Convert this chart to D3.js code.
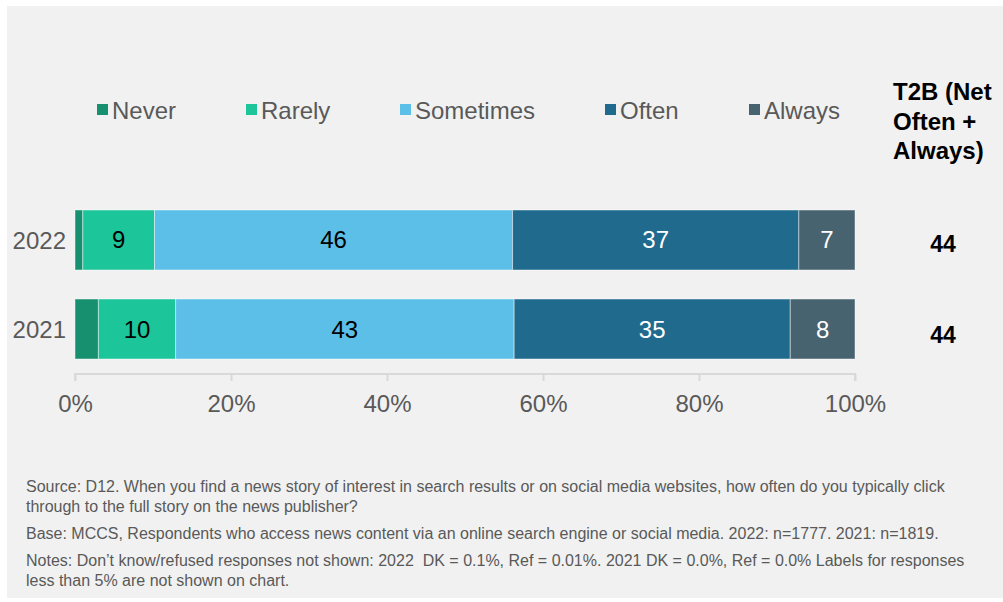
<!DOCTYPE html>
<html>
<head>
<meta charset="utf-8">
<script src="https://cdn.jsdelivr.net/npm/d3@7"></script>
<style>
  html, body { margin: 0; padding: 0; background: #ffffff; }
  svg { display: block; font-family: "Liberation Sans", Arial, sans-serif; }
  .note { white-space: pre; }
</style>
</head>
<body>
<svg id="chart" width="1003" height="602"></svg>
<script>
// Survey response shares (%) by year
const years = ["2022", "2021"];
const responses = ["Never", "Rarely", "Sometimes", "Often", "Always"];
const never     = [1.0, 3.0];
const rarely    = [9.2, 9.9];
const sometimes = [45.9, 43.4];
const often     = [36.7, 35.4];
const always    = [7.2, 8.3];
const tickValues = [0, 20, 40, 60, 80, 100];
const t2bHeader = ["T2B (Net", "Often +", "Always)"];
const footnotes = [
  "Source: D12. When you find a news story of interest in search results or on social media websites, how often do you typically click",
  "through to the full story on the news publisher?",
  "Base: MCCS, Respondents who access news content via an online search engine or social media. 2022: n=1777. 2021: n=1819.",
  "Notes: Don\u2019t know/refused responses not shown: 2022  DK = 0.1%, Ref = 0.01%. 2021 DK = 0.0%, Ref = 0.0% Labels for responses",
  "less than 5% are not shown on chart."
];

const colors = ["#17906f", "#1dc59b", "#5bbfe7", "#206a8e", "#47636f"];
const labelColors = ["#000000", "#000000", "#000000", "#ffffff", "#ffffff"];
const FONT = "Liberation Sans, Arial, sans-serif";

const rows = years.map((y, i) => ({
  year: y,
  Never: never[i], Rarely: rarely[i], Sometimes: sometimes[i], Often: often[i], Always: always[i]
}));
const stacked = d3.stack().keys(responses)(rows);

const svg = d3.select("#chart");

// panel background
svg.append("rect")
  .attr("x", 7).attr("y", 6).attr("width", 996).attr("height", 592)
  .attr("fill", "#f1f1f1");

const x = d3.scaleLinear().domain([0, 100]).range([75, 855]);
const y = d3.scaleBand().domain(years).range([210, 359]).paddingInner(0.326).paddingOuter(0);

// stacked bars
const layer = svg.append("g").selectAll("g").data(stacked).join("g")
  .attr("fill", (d, i) => colors[i]);

layer.selectAll("rect").data(d => d.map(v => ({ v, year: v.data.year }))).join("rect")
  .attr("x", d => x(d.v[0]))
  .attr("width", d => x(d.v[1]) - x(d.v[0]))
  .attr("y", d => y(d.year))
  .attr("height", y.bandwidth())
  .attr("stroke", "rgba(255,255,255,0.45)")
  .attr("stroke-width", 1);

// segment value labels (only for shares of 5% or more)
stacked.forEach((s, i) => {
  svg.append("g").selectAll("text")
    .data(s.filter(v => (v[1] - v[0]) >= 5))
    .join("text")
    .attr("x", v => (x(v[0]) + x(v[1])) / 2)
    .attr("y", v => y(v.data.year) + y.bandwidth() / 2 + 8.5)
    .attr("text-anchor", "middle")
    .attr("font-size", 24)
    .attr("fill", labelColors[i])
    .text(v => d3.format(".0f")(v[1] - v[0]));
});

// x axis
const xAxis = d3.axisBottom(x).tickValues(tickValues).tickSize(7).tickFormat(d => d + "%");
const gx = svg.append("g").attr("transform", "translate(0,374)").call(xAxis);
gx.select(".domain").attr("stroke", "#d9d9d9").attr("stroke-width", 2)
  .attr("d", "M75,7V0H855V7");
gx.selectAll(".tick line").attr("stroke", "#d9d9d9").attr("stroke-width", 2);
gx.selectAll(".tick text").attr("fill", "#595959").attr("font-size", 24)
  .attr("font-family", FONT).attr("y", 21).attr("dy", "0.71em");

// y axis labels
const yAxis = d3.axisLeft(y).tickSize(0).tickPadding(9);
const gy = svg.append("g").attr("transform", "translate(75,0)").call(yAxis);
gy.select(".domain").remove();
gy.selectAll(".tick text").attr("fill", "#595959").attr("font-size", 24)
  .attr("font-family", FONT).attr("dy", "0.36em");

// legend
const legendX = [97, 246, 400, 605, 749];
const legend = svg.append("g").selectAll("g").data(responses).join("g")
  .attr("transform", (d, i) => `translate(${legendX[i]},104)`);
legend.append("rect").attr("width", 11).attr("height", 11).attr("fill", (d, i) => colors[i]);
legend.append("text").attr("x", 15).attr("y", 15)
  .attr("font-size", 24).attr("fill", "#595959").text(d => d);

// T2B column
svg.append("text").attr("x", 893).attr("font-weight", "bold").attr("font-size", 24)
  .attr("fill", "#000")
  .selectAll("tspan").data(t2bHeader).join("tspan")
  .attr("x", 893).attr("y", (d, i) => 100 + i * 29.5).text(d => d);

svg.append("g").selectAll("text").data(rows).join("text")
  .attr("x", 943)
  .attr("y", (d, i) => y(d.year) + y.bandwidth() / 2 + 12 + i * 2)
  .attr("text-anchor", "middle")
  .attr("font-weight", "bold").attr("font-size", 23).attr("fill", "#000")
  .text(d => d3.format(".0f")(d.Often + d.Always));

// footnotes
const noteY = [492, 512, 539, 566, 586];
svg.append("g").selectAll("text").data(footnotes).join("text")
  .attr("class", "note")
  .attr("x", 26).attr("y", (d, i) => noteY[i])
  .attr("font-size", 16).attr("fill", "#595959")
  .text(d => d);
</script>
</body>
</html>
